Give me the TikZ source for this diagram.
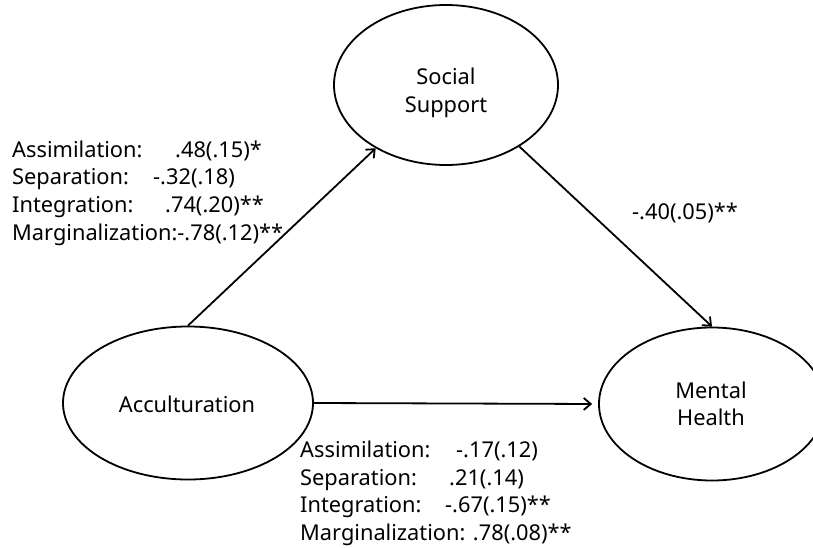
\documentclass[tikz,border=0pt]{standalone}
\usepackage{fontspec}
\setmainfont{Noto Sans}
\usetikzlibrary{shapes.geometric,arrows.meta}
\begin{document}
\begin{tikzpicture}[x=1pt,y=-1pt,
  oval/.style={ellipse,draw,line width=1.8pt,inner sep=0pt},
  txt/.style={font=\fontsize{21.8}{26}\selectfont,inner sep=0pt,anchor=base west},
  ctxt/.style={font=\fontsize{21.8}{26}\selectfont,inner sep=0pt,anchor=base},
  conn/.style={line width=1.8pt,-{Straight Barb[length=7pt,width=12pt]}}]
\useasboundingbox[fill=white] (0,0) rectangle (813,548);
% ellipses
\node[oval,minimum width=224pt,minimum height=160pt] (ss) at (446,85) {};
\node[oval,minimum width=250pt,minimum height=153pt] (acc) at (188,403) {};
\node[oval,minimum width=226pt,minimum height=153pt] (mh) at (712,404) {};
% ellipse labels
\node[ctxt] (ss1) at (446,85) {Social};
\node[ctxt] (ss2) at (446,113) {Support};
\node[ctxt] (acc1) at (187,412) {Acculturation};
\node[ctxt] (mh1) at (711,398) {Mental};
\node[ctxt] (mh2) at (711,425) {Health};
% connectors
\draw[conn] (acc.north) -- (ss.222);
\draw[conn] (ss.320) -- (mh.north);
\draw[conn,shorten >=6pt] (acc.east) -- (mh.west);
% left block
\node[txt] (l1a) at (12,158) {Assimilation:};
\node[txt] (l1b) at (175,158) {.48(.15)*};
\node[txt] (l2a) at (12,185) {Separation:};
\node[txt] (l2b) at (153,185) {-.32(.18)};
\node[txt] (l3a) at (12,212) {Integration:};
\node[txt] (l3b) at (165,212) {.74(.20)**};
\node[txt] (l4a) at (12,240) {Marginalization:-.78(.12)**};
% right label
\node[txt] (r1) at (632,219) {-.40(.05)**};
% bottom block
\node[txt] (b1a) at (300,457) {Assimilation:};
\node[txt] (b1b) at (456,457) {-.17(.12)};
\node[txt] (b2a) at (300,485) {Separation:};
\node[txt] (b2b) at (449,485) {.21(.14)};
\node[txt] (b3a) at (300,512) {Integration:};
\node[txt] (b3b) at (445,512) {-.67(.15)**};
\node[txt] (b4a) at (300,540) {Marginalization: .78(.08)**};
\end{tikzpicture}
\end{document}
